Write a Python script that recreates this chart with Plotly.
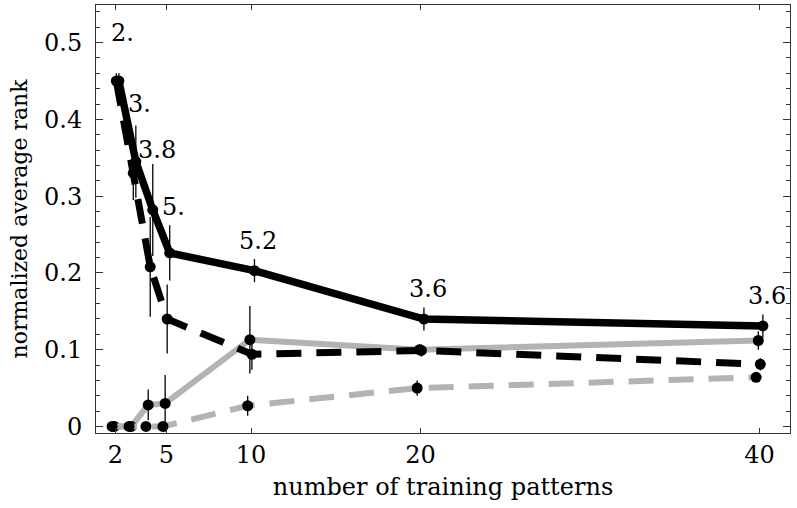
import plotly.graph_objects as go

# Training-set sizes and per-method normalized average rank
patterns = [2, 3, 4, 5, 10, 20, 40]

rank_solid_black = [0.450, 0.345, 0.282, 0.226, 0.203, 0.140, 0.131]
err_solid_black = [0.010, 0.047, 0.060, 0.036, 0.015, 0.015, 0.015]
labels_solid_black = ["2.", "3.", "3.8", "5.", "5.2", "3.6", "3.6"]

rank_dashed_black = [0.450, 0.330, 0.208, 0.140, 0.094, 0.099, 0.081]
err_dashed_black = [0.010, 0.035, 0.065, 0.045, 0.020, 0.008, 0.008]

rank_solid_gray = [0.0, 0.0, 0.028, 0.030, 0.113, 0.100, 0.112]
err_solid_gray = [0.0, 0.0, 0.020, 0.037, 0.044, 0.007, 0.012]

rank_dashed_gray = [0.0, 0.0, 0.0, 0.0, 0.027, 0.050, 0.064]
err_dashed_gray = [0.0, 0.0, 0.0, 0.0, 0.013, 0.010, 0.005]

y_tick_vals = [0, 0.1, 0.2, 0.3, 0.4, 0.5]
y_tick_text = ["0", "0.1", "0.2", "0.3", "0.4", "0.5"]
x_tick_vals = [2, 5, 10, 20, 40]

FONT = "DejaVu Serif"

fig = go.Figure()

series = [
    # values, errors, colour, width, dash, horizontal nudge
    (rank_solid_gray, err_solid_gray, "#b3b3b3", 6, "solid", -0.07),
    (rank_dashed_gray, err_dashed_gray, "#b3b3b3", 6, "25px,15px", -0.2),
    (rank_dashed_black, err_dashed_black, "black", 7, "25px,15px", 0.05),
    (rank_solid_black, err_solid_black, "black", 7.5, "solid", 0.2),
]

for vals, errs, color, width, dash, nudge in series:
    xs = [p + nudge for p in patterns]
    fig.add_trace(go.Scatter(
        x=xs, y=vals, mode="lines",
        line=dict(color=color, width=width, dash=dash),
        hoverinfo="skip", showlegend=False,
    ))
    fig.add_trace(go.Scatter(
        x=xs, y=vals, mode="markers",
        marker=dict(color="black", size=11),
        error_y=dict(type="data", array=errs, visible=True,
                     color="black", thickness=1.3, width=0),
        showlegend=False,
    ))

label_lift = [48, 58, 60, 46, 30, 30, 30]
for p, v, txt, lift in zip(patterns, rank_solid_black, labels_solid_black, label_lift):
    fig.add_annotation(
        x=p + 0.2, y=v, text=txt, showarrow=False,
        xanchor="center", yanchor="middle", yshift=lift, xshift=4,
        font=dict(family=FONT, size=24, color="black"),
    )

axis_common = dict(
    showgrid=False, zeroline=False, showline=True, linecolor="#333333",
    linewidth=1, mirror="ticks", ticks="inside", tickcolor="#333333",
    tickfont=dict(family=FONT, size=24, color="black"),
)

fig.update_xaxes(
    range=[0.85, 41.8], tickvals=x_tick_vals, ticklen=5,
    title=dict(text="number of training patterns",
               font=dict(family=FONT, size=24, color="black"), standoff=10),
    **axis_common,
)
fig.update_yaxes(
    range=[-0.0085, 0.549], tickvals=y_tick_vals, ticktext=y_tick_text,
    ticklen=7, ticklabelstandoff=8,
    minor=dict(dtick=0.02, ticks="inside", ticklen=4, tickcolor="#333333"),
    title=dict(text="normalized average rank",
               font=dict(family=FONT, size=22, color="black"), standoff=10),
    **axis_common,
)

fig.update_layout(
    width=797, height=508,
    margin=dict(l=96, r=7, t=5, b=75),
    plot_bgcolor="white", paper_bgcolor="white",
    font=dict(family=FONT),
)

fig.write_html("out.html")
